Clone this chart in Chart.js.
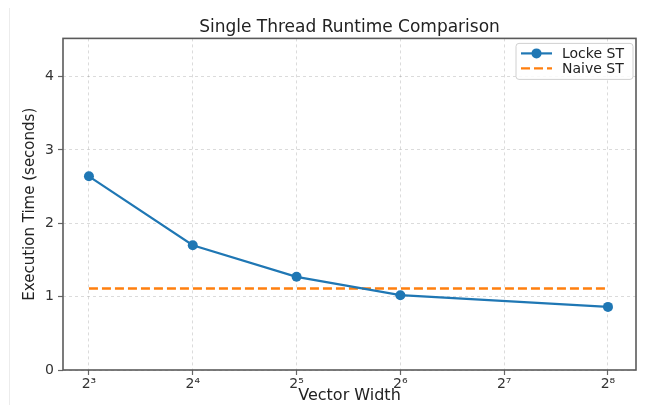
<!DOCTYPE html>
<html>
<head>
<meta charset="utf-8">
<script src="https://cdn.jsdelivr.net/npm/chart.js@4"></script>
<style>
  html, body { margin: 0; padding: 0; background: #fff; }
  #wrap { position: relative; width: 648px; height: 405px; }
  #edge { position: absolute; left: 9px; top: 8px; bottom: 0; width: 1px; background: #ececec; }
</style>
</head>
<body>
<div id="wrap">
  <div id="edge"></div>
  <canvas id="runtimeChart" width="648" height="405"></canvas>
</div>
<script>
// data
const vectorWidths = [8, 16, 32, 64, 256];
const lockeTimes = [2.64, 1.70, 1.27, 1.02, 0.86];
const naiveTimes = [1.11, 1.11, 1.11, 1.11, 1.11];
const xTickExps = [3, 4, 5, 6, 7, 8];
const yTickValues = [0, 1, 2, 3, 4];

const sup = { 3: '³', 4: '⁴', 5: '⁵', 6: '⁶', 7: '⁷', 8: '⁸' };
const FONT = 'DejaVu Sans';

const toPoints = (vals) => vectorWidths.map((w, i) => ({ x: Math.log2(w), y: vals[i] }));

// matplotlib style frame around the plot area
const framePlugin = {
    id: 'frame',
    afterDatasetsDraw(chart) {
        const { ctx, chartArea: a } = chart;
        ctx.save();
        ctx.strokeStyle = '#5a5a5a';
        ctx.lineWidth = 1.6;
        ctx.strokeRect(a.left, a.top, a.right - a.left, a.bottom - a.top);
        ctx.restore();
    }
};

// legend box inside the top right corner
const legendPlugin = {
    id: 'insideLegend',
    afterDraw(chart) {
        const { ctx, chartArea: a } = chart;
        const w = 117, h = 36;
        const x0 = a.right - 3 - w, y0 = a.top + 5;
        ctx.save();
        ctx.fillStyle = 'rgba(255,255,255,0.85)';
        ctx.strokeStyle = '#d0d0d0';
        ctx.lineWidth = 1;
        ctx.beginPath();
        ctx.roundRect(x0, y0, w, h, 3);
        ctx.fill();
        ctx.stroke();
        chart.data.datasets.forEach((ds, i) => {
            const y = y0 + 10 + i * 15;
            ctx.strokeStyle = ds.borderColor;
            ctx.lineWidth = ds.borderWidth;
            ctx.setLineDash(ds.borderDash || []);
            ctx.beginPath();
            ctx.moveTo(x0 + 5, y);
            ctx.lineTo(x0 + 36, y);
            ctx.stroke();
            ctx.setLineDash([]);
            if (ds.pointRadius > 0) {
                ctx.fillStyle = ds.borderColor;
                ctx.beginPath();
                ctx.arc(x0 + 20.5, y, ds.pointRadius, 0, Math.PI * 2);
                ctx.fill();
            }
            ctx.fillStyle = '#222';
            ctx.font = '14px "' + FONT + '"';
            ctx.textBaseline = 'middle';
            ctx.fillText(ds.label, x0 + 46, y + 1);
        });
        ctx.restore();
    }
};

const gridOpts = {
    color: 'rgba(0,0,0,0.14)',
    tickColor: '#666',
    tickLength: 5,
    tickBorderDash: [],
    tickWidth: 1.2
};

const ctx = document.getElementById('runtimeChart').getContext('2d');
new Chart(ctx, {
    type: 'line',
    data: {
        datasets: [{
            label: 'Locke ST',
            data: toPoints(lockeTimes),
            borderColor: '#1f77b4',
            backgroundColor: '#1f77b4',
            borderWidth: 2.2,
            pointRadius: 5,
            pointHoverRadius: 5,
            pointBorderWidth: 0,
            tension: 0
        }, {
            label: 'Naive ST',
            data: toPoints(naiveTimes),
            borderColor: '#ff7f0e',
            backgroundColor: '#ff7f0e',
            borderWidth: 2.4,
            borderDash: [9, 4],
            pointRadius: 0,
            pointHoverRadius: 0,
            tension: 0
        }]
    },
    options: {
        responsive: false,
        animation: false,
        events: [],
        layout: { padding: { left: 20, right: 12, top: 0, bottom: 0 } },
        plugins: {
            legend: { display: false },
            tooltip: { enabled: false },
            title: {
                display: true,
                text: 'Single Thread Runtime Comparison',
                fullSize: false,
                color: '#222',
                font: { family: FONT, size: 17, weight: 'normal' },
                padding: { top: 17, bottom: 1 }
            }
        },
        scales: {
            x: {
                type: 'linear',
                min: 2.75,
                max: 8.27,
                afterBuildTicks: (scale) => { scale.ticks = xTickExps.map(v => ({ value: v })); },
                afterFit: (scale) => { scale.height = 35; },
                ticks: {
                    callback: (v) => '2' + sup[v],
                    color: '#333',
                    font: { family: FONT, size: 14 },
                    padding: 1,
                    maxRotation: 0
                },
                grid: gridOpts,
                border: { display: false, dash: [3, 3] },
                title: {
                    display: true,
                    text: 'Vector Width',
                    color: '#222',
                    font: { family: FONT, size: 16 },
                    padding: { top: 0, bottom: 0 }
                }
            },
            y: {
                min: 0,
                max: 4.52,
                afterBuildTicks: (scale) => { scale.ticks = yTickValues.map(v => ({ value: v })); },
                afterFit: (scale) => { scale.width = 43; },
                ticks: {
                    color: '#333',
                    font: { family: FONT, size: 14 },
                    padding: 4
                },
                grid: gridOpts,
                border: { display: false, dash: [3, 3] },
                title: {
                    display: true,
                    text: 'Execution Time (seconds)',
                    color: '#222',
                    font: { family: FONT, size: 15 },
                    padding: { top: 1, bottom: 0 }
                }
            }
        }
    },
    plugins: [framePlugin, legendPlugin]
});
</script>
</body>
</html>
